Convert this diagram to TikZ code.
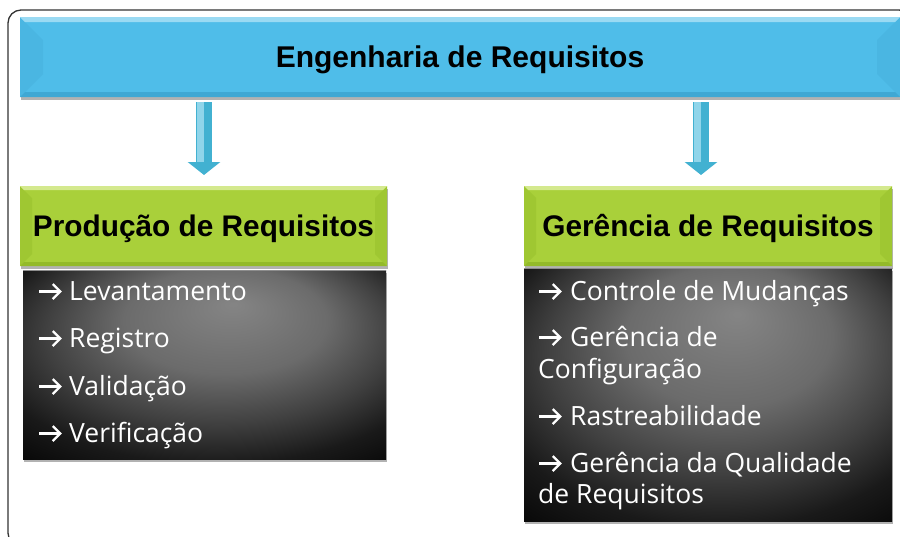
\documentclass[tikz,border=0pt]{standalone}
\usepackage{fontspec}
\setmainfont{Liberation Sans}
\newfontfamily\itemfont{Open Sans}
\usetikzlibrary{arrows.meta,calc,shadows}
\definecolor{blueA}{HTML}{4FBDE9}
\definecolor{blueTop}{HTML}{9ADAF3}
\definecolor{blueSide}{HTML}{4AB6E2}
\definecolor{blueBot}{HTML}{3FA8D4}
\definecolor{greenA}{HTML}{A9D03A}
\definecolor{greenTop}{HTML}{D4E98E}
\definecolor{greenSide}{HTML}{9FC732}
\definecolor{greenBot}{HTML}{93BA2A}
\definecolor{arrowA}{HTML}{42B1D1}
\definecolor{arrowL}{HTML}{90D5EA}
\definecolor{frameC}{HTML}{333333}
\pgfdeclareradialshading{darkglow}{\pgfpoint{4bp}{16bp}}{rgb(0bp)=(.52,.52,.52);rgb(14bp)=(.42,.42,.42);rgb(24bp)=(.25,.25,.25);rgb(32bp)=(.1,.1,.1);rgb(40bp)=(.02,.02,.02);rgb(50bp)=(0,0,0)}
\newcommand{\itemarrow}[1]{\makebox[#1][l]{\tikz[baseline=0pt]\draw[white, line width=2.2pt, -{Straight Barb[length=7.5pt,width=15pt,line width=2.2pt]}] (0pt,8.5pt) -- (22.5pt,8.5pt);}}
\tikzset{
  panel/.style={anchor=north west, inner sep=0pt, outer sep=0pt,
    drop shadow={shadow xshift=1pt, shadow yshift=-3pt, opacity=.3, fill=black}},
  bluepanel/.style={panel, fill=blueA, minimum width=880pt, minimum height=80pt,
    text height=50pt, text depth=30pt, font=\bfseries\fontsize{30}{31}\selectfont},
  greenpanel/.style={panel, fill=greenA, minimum width=367pt, minimum height=80pt,
    text height=50.5pt, text depth=29.5pt, font=\bfseries\fontsize{29.8}{30}\selectfont},
  darkpanel/.style={panel, shading=darkglow},
  item/.style={anchor=base west, inner sep=0pt, text=white,
    font=\itemfont\fontsize{26.5}{30}\selectfont},
  bigarrow/.style={draw=arrowA, line width=16pt, -{Triangle[width=32pt,length=13pt]}},
  lightstrip/.style={draw=arrowL, line width=7pt},
}
\begin{document}
\begin{tikzpicture}[x=1pt,y=-1pt]
\useasboundingbox (0,0) rectangle (900,536);
% outer frame
\draw[frameC, line width=1.3pt, rounded corners=13pt] (8,10) rectangle (912,546);

% top panel
\node[bluepanel] (top) at (20,17) {Engenharia de Requisitos};
\fill[blueSide] (top.north west) -- ++(23,23) -- ($(top.south west)+(23,-23)$) -- (top.south west) -- cycle;
\fill[blueSide] (top.north east) -- ++(-23,23) -- ($(top.south east)+(-23,-23)$) -- (top.south east) -- cycle;
\fill[blueBot] (top.south west) -- (top.south east) -- ++(-5,-5) -- ($(top.south west)+(5,-5)$) -- cycle;
\fill[blueTop] (top.north west) -- (top.north east) -- ++(-5,5) -- ($(top.north west)+(5,5)$) -- cycle;

% green panels
\node[greenpanel] (prod) at (20,186) {Produção de Requisitos};
\node[greenpanel, minimum width=368pt] (ger) at (524,186) {Gerência de Requisitos};
\foreach \g in {prod,ger}{
  \fill[greenSide] (\g.north west) -- ++(12,12) -- ($(\g.south west)+(12,-12)$) -- (\g.south west) -- cycle;
  \fill[greenSide] (\g.north east) -- ++(-12,12) -- ($(\g.south east)+(-12,-12)$) -- (\g.south east) -- cycle;
  \fill[greenBot] (\g.south west) -- (\g.south east) -- ++(-4,-4) -- ($(\g.south west)+(4,-4)$) -- cycle;
  \fill[greenTop] (\g.north west) -- (\g.north east) -- ++(-4,4) -- ($(\g.north west)+(4,4)$) -- cycle;
}

% dark panels
\node[darkpanel, minimum width=363pt, minimum height=189pt] (pl) at (23,270) {};
\node[darkpanel, minimum width=368pt, minimum height=253pt] (gl) at (524,268) {};
\draw[black!45, line width=1pt] (pl.north west) -- (pl.north east);
\draw[black!45, line width=1pt] (gl.north west) -- (gl.north east);

% items left
\node[item] (l1) at (38,300) {\itemarrow{31pt}Levantamento};
\node[item] (l2) at (38,347) {\itemarrow{31pt}Registro};
\node[item] (l3) at (38,395) {\itemarrow{31pt}Validação};
\node[item] (l4) at (38,442) {\itemarrow{31pt}Verificação};

% items right
\node[item] (r1) at (538,300) {\itemarrow{32pt}Controle de Mudanças};
\node[item] (r2) at (538,346) {\itemarrow{32pt}Gerência de};
\node[item] (r2b) at (538,378) {Configuração};
\node[item] (r3) at (538,425) {\itemarrow{32pt}Rastreabilidade};
\node[item] (r4) at (538,472) {\itemarrow{32pt}Gerência da Qualidade};
\node[item] (r4b) at (538,503) {de Requisitos};

% connectors
\coordinate (ax1) at (204,0);
\coordinate (ax1l) at (200,0);
\coordinate (ax2) at (701,0);
\coordinate (ax2l) at (697,0);
\draw[bigarrow, shorten <=5pt, shorten >=11pt] (top.south -| ax1) -- (prod.north -| ax1);
\draw[lightstrip, shorten <=5pt, shorten >=24pt] (top.south -| ax1l) -- (prod.north -| ax1l);
\draw[bigarrow, shorten <=5pt, shorten >=11pt] (top.south -| ax2) -- (ger.north -| ax2);
\draw[lightstrip, shorten <=5pt, shorten >=24pt] (top.south -| ax2l) -- (ger.north -| ax2l);
\end{tikzpicture}
\end{document}
